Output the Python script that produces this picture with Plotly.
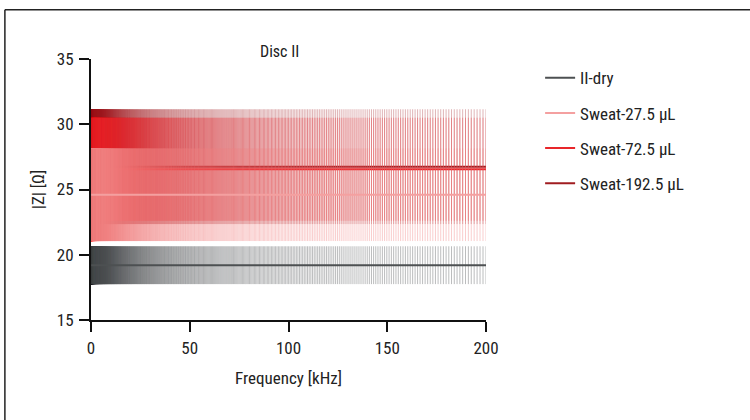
import numpy as np
import plotly.graph_objects as go

# Impedance sweep of disc II: mean |Z| and spread for each condition
SWEEP_START_KHZ = 0.1
SWEEP_STOP_KHZ = 200
SWEEP_POINTS = 1000
frequency_khz = np.geomspace(SWEEP_START_KHZ, SWEEP_STOP_KHZ, SWEEP_POINTS)

series_names = ["II-dry", "Sweat-27.5 µL", "Sweat-72.5 µL", "Sweat-192.5 µL"]
mean_ohm = [19.2, 24.6, 26.55, 26.75]
sd_ohm = [1.45, 3.55, 3.95, 4.4]
line_colors = ["#4d5052", "#f4a0a0", "#e8262a", "#a01c20"]
bar_colors = ["rgba(77,80,82,0.38)", "rgba(240,130,130,0.40)",
              "rgba(232,38,42,0.35)", "rgba(160,28,32,0.33)"]

x_ticks = [0, 50, 100, 150, 200]
y_ticks = [15, 20, 25, 30, 35]

FONT = "Liberation Sans Narrow, Roboto Condensed, DejaVu Sans Condensed, Arial Narrow, sans-serif"

fig = go.Figure()

# draw order: dry first, then the sweat series with the lightest on top
draw_order = [0, 3, 2, 1]
for i in draw_order:
    n = len(frequency_khz)
    mean = np.full(n, mean_ohm[i])
    sd = np.full(n, sd_ohm[i])
    fig.add_trace(go.Scatter(
        x=frequency_khz, y=mean, mode="markers",
        marker=dict(size=1, color="rgba(0,0,0,0)"),
        error_y=dict(type="data", array=sd, symmetric=True,
                     color=bar_colors[i], thickness=1, width=0),
        showlegend=False, hoverinfo="skip",
    ))
    fig.add_trace(go.Scatter(
        x=frequency_khz, y=mean, mode="lines",
        line=dict(color=line_colors[i], width=2),
        name=series_names[i], legendrank=i + 1, legendgroup=series_names[i],
    ))

axis_common = dict(
    showline=True, linecolor="#111", linewidth=2,
    ticks="outside", ticklen=10, tickwidth=2, tickcolor="#111",
    showgrid=False, zeroline=False,
    tickfont=dict(size=17, color="#222"),
)

fig.update_layout(
    width=750, height=420,
    margin=dict(l=91, r=264, t=59, b=100),
    paper_bgcolor="white", plot_bgcolor="white",
    font=dict(family=FONT, color="#222"),
    xaxis=dict(range=[0, 200], tickvals=x_ticks, ticklabelstandoff=2,
               title=dict(text="Frequency [kHz]", font=dict(size=17), standoff=15),
               **axis_common),
    yaxis=dict(range=[15, 35], tickvals=y_ticks, ticklabelstandoff=2,
               title=dict(text="|Z| [Ω]", font=dict(size=17), standoff=8),
               **axis_common),
    legend=dict(x=1.137, y=0.995, xanchor="left", yanchor="top",
                traceorder="grouped", tracegroupgap=10,
                font=dict(size=17, color="#222"), bgcolor="rgba(0,0,0,0)"),
    showlegend=True,
    annotations=[dict(text="Disc II", x=0.478, y=1.0, xref="paper", yref="paper",
                      xanchor="center", yanchor="bottom", showarrow=False, yshift=-4,
                      font=dict(size=16, color="#222"))],
    shapes=[
        dict(type="line", xref="paper", yref="paper",
             x0=-0.218, x1=1.7, y0=1.189, y1=1.189,
             line=dict(color="#222", width=1.5)),
        dict(type="line", xref="paper", yref="paper",
             x0=-0.218, x1=-0.218, y0=1.189, y1=-0.5,
             line=dict(color="#222", width=1.5)),
    ],
)

fig.write_html("out.html")
